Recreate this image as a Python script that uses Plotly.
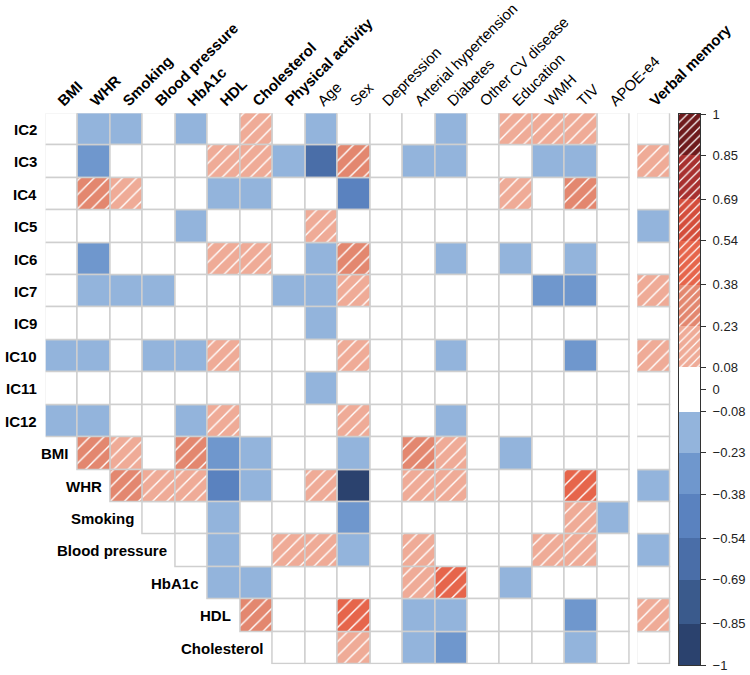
import plotly.graph_objects as go

# ---------------- data ----------------
columns = ["BMI", "WHR", "Smoking", "Blood pressure", "HbA1c", "HDL", "Cholesterol",
           "Physical activity", "Age", "Sex", "Depression", "Arterial hypertension",
           "Diabetes", "Other CV disease", "Education", "WMH", "TIV", "APOE-e4"]
bold_columns = ["BMI", "WHR", "Smoking", "Blood pressure", "HbA1c", "HDL", "Cholesterol",
                "Physical activity"]
rows = ["IC2", "IC3", "IC4", "IC5", "IC6", "IC7", "IC9", "IC10", "IC11", "IC12",
        "BMI", "WHR", "Smoking", "Blood pressure", "HbA1c", "HDL", "Cholesterol"]
outcome = "Verbal memory"

N = None
r_IC2 = [0, -0.15, -0.15, 0, -0.15, 0, 0.15, 0, -0.15, 0, 0, 0, -0.15, 0, 0.15, 0.15, 0.15, 0]
r_IC3 = [0, -0.3, 0, 0, 0, 0.15, 0.15, -0.15, -0.6, 0.3, 0, -0.15, -0.15, 0, 0, -0.15, -0.15, 0]
r_IC4 = [0, 0.3, 0.15, 0, 0, -0.15, -0.15, 0, 0, -0.45, 0, 0, 0, 0, 0.15, 0, 0.3, 0]
r_IC5 = [0, 0, 0, 0, -0.15, 0, 0, 0, 0.15, 0, 0, 0, 0, 0, 0, 0, 0, 0]
r_IC6 = [0, -0.3, 0, 0, 0, 0.15, 0.15, 0, -0.15, 0.3, 0, 0, -0.15, 0, -0.15, 0, -0.15, 0]
r_IC7 = [0, -0.15, -0.15, -0.15, 0, 0, 0, -0.15, -0.15, 0.15, 0, 0, 0, 0, 0, -0.3, -0.3, 0]
r_IC9 = [0, 0, 0, 0, 0, 0, 0, 0, -0.15, 0, 0, 0, 0, 0, 0, 0, 0, 0]
r_IC10 = [-0.15, -0.15, 0, -0.15, -0.15, 0.15, 0, 0, 0, 0.15, 0, 0, -0.15, 0, 0, 0, -0.3, 0]
r_IC11 = [0, 0, 0, 0, 0, 0, 0, 0, -0.15, 0, 0, 0, 0, 0, 0, 0, 0, 0]
r_IC12 = [-0.15, -0.15, 0, 0, -0.15, 0.15, 0, 0, 0, 0.15, 0, 0, -0.15, 0, 0, 0, 0, 0]
r_BMI = [N, 0.3, 0.15, 0, 0.3, -0.3, -0.15, 0, 0, -0.15, 0, 0.3, 0.15, 0, -0.15, 0, 0, 0]
r_WHR = [N, N, 0.3, 0.15, 0.15, -0.45, -0.15, 0, 0.15, -0.9, 0, 0.15, 0.15, 0, 0, 0, 0.45, 0]
r_Smoking = [N, N, N, 0, 0, -0.15, 0, 0, 0, -0.3, 0, 0, 0, 0, 0, 0, 0.15, -0.15]
r_BP = [N, N, N, N, 0, -0.15, 0, 0.15, 0.15, -0.15, 0, 0.15, 0, 0, 0, 0.15, 0.15, 0]
r_HbA1c = [N, N, N, N, N, -0.15, -0.15, 0, 0, 0, 0, 0.15, 0.45, 0, -0.15, 0, 0, 0]
r_HDL = [N, N, N, N, N, N, 0.3, 0, 0, 0.45, 0, -0.15, -0.15, 0, 0, 0, -0.3, 0]
r_Chol = [N, N, N, N, N, N, N, 0, 0, 0.15, 0, -0.15, -0.3, 0, 0, 0, -0.15, 0]
matrix = [r_IC2, r_IC3, r_IC4, r_IC5, r_IC6, r_IC7, r_IC9, r_IC10, r_IC11, r_IC12,
          r_BMI, r_WHR, r_Smoking, r_BP, r_HbA1c, r_HDL, r_Chol]

verbal_memory = [0, 0.15, 0, -0.15, 0, 0.15, 0, 0.15, 0, 0, 0, -0.15, 0, -0.15, 0, 0.15, 0]

breaks = [-1, -0.85, -0.69, -0.54, -0.38, -0.23, -0.08, 0.08, 0.23, 0.38, 0.54, 0.69, 0.85, 1]
band_colors = ["#2b426e", "#3a5a8c", "#4a6ea8", "#5a82bf", "#6f97cd", "#93b4dc", "#ffffff",
               "#efab97", "#e3876f", "#e6654b", "#d44d3b", "#a8302f", "#6e1a1c"]
cbar_ticks = [-1, -0.85, -0.69, -0.54, -0.38, -0.23, -0.08, 0, 0.08, 0.23, 0.38, 0.54, 0.69, 0.85, 1]

# ---------------- helpers ----------------
NB = len(breaks) - 1
POS0 = breaks.index(0.08)          # first positive (hatched) band


def band_of(v):
    for i in range(NB):
        if breaks[i] <= v <= breaks[i + 1]:
            return i
    return POS0 - 1


FONT = "Liberation Sans, Arial, sans-serif"
GRID = "#cfcfcf"
W, H = 750, 675

fig = go.Figure()


def add_cells(xs, bases, vals, xa, ya):
    """one bar trace per colour band; positive bands are hatched"""
    for b in range(NB):
        idx = [i for i, v in enumerate(vals) if band_of(v) == b]
        if not idx:
            continue
        marker = dict(color=band_colors[b], line=dict(color=GRID, width=1.5))
        if b >= POS0:
            marker["pattern"] = dict(shape="/", fillmode="replace", bgcolor=band_colors[b],
                                     fgcolor="#ffffff", fgopacity=1, size=10, solidity=0.14)
        fig.add_trace(go.Bar(
            x=[xs[i] for i in idx], y=[1] * len(idx), base=[bases[i] for i in idx],
            width=1, xaxis=xa, yaxis=ya, marker=marker,
            hoverinfo="skip", showlegend=False))


# main grid
xs, bases, vals = [], [], []
for ri, row in enumerate(matrix):
    for ci, v in enumerate(row):
        if v is None:
            continue
        xs.append(ci)
        bases.append(ri - 0.5)
        vals.append(v)
add_cells(xs, bases, vals, "x", "y")

# verbal memory column
add_cells([0] * len(verbal_memory), [i - 0.5 for i in range(len(verbal_memory))],
          verbal_memory, "x2", "y2")

# colour bar: one segment per band
for b in range(NB):
    marker = dict(color=band_colors[b], line=dict(width=0))
    if b >= POS0:
        marker["pattern"] = dict(shape="/", fillmode="replace", bgcolor=band_colors[b],
                                 fgcolor="#ffffff", fgopacity=1, size=6, solidity=0.2)
    fig.add_trace(go.Bar(
        x=[0], y=[breaks[b + 1] - breaks[b]], base=[breaks[b]], width=1,
        xaxis="x3", yaxis="y3", marker=marker, hoverinfo="skip", showlegend=False))

# row labels
for ri, row in enumerate(matrix):
    start = next(i for i, v in enumerate(row) if v is not None)
    fig.add_annotation(x=start - 0.5, y=ri, xref="x", yref="y", text="<b>%s</b>" % rows[ri],
                       showarrow=False, xanchor="right", yanchor="middle", xshift=-7,
                       font=dict(family=FONT, size=15, color="#000"))

ticktext = [("<b>%s</b>" % c) if c in bold_columns else c for c in columns]
ydom = [10.7 / H, 561.7 / H]
LABEL_SHIFT = -0.1   # column labels start slightly left of the cell centre

fig.update_layout(
    width=W, height=H, margin=dict(l=0, r=0, t=0, b=0, autoexpand=False),
    paper_bgcolor="white", plot_bgcolor="white", barmode="overlay", bargap=0,
    font=dict(family=FONT, color="#000"),
    xaxis=dict(domain=[45.7 / W, 630 / W], range=[-0.5, 17.5], side="top", automargin=False,
               tickmode="array", tickvals=[i + LABEL_SHIFT for i in range(len(columns))],
               ticktext=ticktext, tickangle=-45, showgrid=False, zeroline=False, ticks="",
               tickfont=dict(size=15, family=FONT, color="#000")),
    yaxis=dict(domain=ydom, range=[16.5, -0.5], showgrid=False, automargin=False,
               zeroline=False, showticklabels=False, ticks=""),
    xaxis2=dict(domain=[637.3 / W, 670.7 / W], range=[-0.5, 0.5], side="top", anchor="y2",
                automargin=False, tickmode="array", tickvals=[LABEL_SHIFT],
                ticktext=["<b>%s</b>" % outcome],
                tickangle=-45, showgrid=False, zeroline=False, ticks="",
                tickfont=dict(size=15, family=FONT, color="#000")),
    yaxis2=dict(domain=ydom, range=[16.5, -0.5], anchor="x2", automargin=False,
                showgrid=False, zeroline=False, showticklabels=False, ticks=""),
    xaxis3=dict(domain=[679 / W, 700 / W], range=[-0.5, 0.5], anchor="y3", showgrid=False,
                automargin=False, zeroline=False, showticklabels=False, ticks="",
                showline=True, mirror=True, linecolor="#333", linewidth=1),
    yaxis3=dict(domain=[10 / H, 561 / H], range=[-1, 1], anchor="x3", side="right",
                automargin=False, showgrid=False, zeroline=False, tickmode="array",
                tickvals=cbar_ticks,
                ticktext=[("%g" % t).replace("-", "\u2212") for t in cbar_ticks],
                ticks="outside", ticklen=5, tickcolor="#333", ticklabelstandoff=4,
                tickfont=dict(size=13, family=FONT, color="#222"),
                showline=True, mirror=True, linecolor="#333", linewidth=1),
)

fig.write_html("out.html", config={"displayModeBar": False},
               post_script="document.body.style.margin='0';")
